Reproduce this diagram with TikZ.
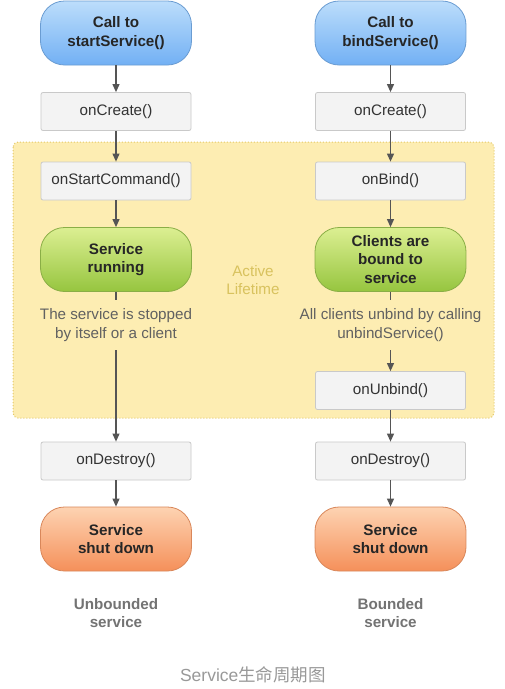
\documentclass[tikz,border=0pt]{standalone}
\usepackage{fontspec}
\setmainfont{Liberation Sans}
\newfontfamily\cjkfont{Noto Sans CJK SC}
\usetikzlibrary{arrows.meta}
\definecolor{arrowc}{HTML}{555555}
\definecolor{boxfill}{HTML}{F3F3F3}
\definecolor{boxline}{HTML}{C9C9C9}
\definecolor{yfill}{HTML}{FDEDB2}
\definecolor{yline}{HTML}{E3C766}
\definecolor{ytext}{HTML}{D8C25E}
\definecolor{bluetop}{HTML}{BCDDFB}
\definecolor{bluebot}{HTML}{72B0F4}
\definecolor{blueline}{HTML}{6A9CD2}
\definecolor{greentop}{HTML}{DCEF92}
\definecolor{greenbot}{HTML}{96C53F}
\definecolor{greenline}{HTML}{8AAE46}
\definecolor{orangetop}{HTML}{FDD3B2}
\definecolor{orangebot}{HTML}{F5905A}
\definecolor{orangeline}{HTML}{D9875A}
\tikzset{
  every node/.style={font=\fontsize{15.2}{18.5}\selectfont},
  pill/.style={rounded corners=24pt, minimum width=151pt, minimum height=64pt,
    align=center, inner sep=0pt, line width=0.8pt, text=black!85,
    font=\fontsize{15.2}{18.5}\selectfont\bfseries},
  bluepill/.style={pill, draw=blueline, top color=bluetop, bottom color=bluebot},
  greenpill/.style={pill, draw=greenline, top color=greentop, bottom color=greenbot},
  orangepill/.style={pill, draw=orangeline, top color=orangetop, bottom color=orangebot},
  callbox/.style={draw=boxline, fill=boxfill, rounded corners=2pt, minimum width=150pt,
    minimum height=38pt, inner sep=0pt, text=black!80, line width=0.8pt},
  note/.style={align=center, inner sep=0pt, minimum height=50pt, text=black!62},
  kind/.style={align=center, text=black!55, font=\fontsize{15.2}{18.5}\selectfont\bfseries},
  flow/.style={draw=arrowc, line width=1.1pt, -{Triangle[width=7pt,length=8pt]}},
  plain/.style={draw=arrowc, line width=1.1pt},
}
\begin{document}
\begin{tikzpicture}[x=1pt,y=-1pt]
\useasboundingbox (0,0) rectangle (505,689);
\fill[white] (0,0) rectangle (505,689);
% active lifetime region
\draw[yline, fill=yfill, dotted, line width=1pt, rounded corners=5pt] (13,142) rectangle (494,418);
\node[text=ytext, align=center] (active) at (253,280) {Active\\Lifetime};
% left column
\node[bluepill] (lstart) at (116,33) {Call to\\startService()};
\node[callbox] (lcreate) at (116,111.5) {onCreate()};
\node[callbox] (lcmd) at (116,181) {onStartCommand()};
\node[greenpill] (lrun) at (116,259.5) {Service\\running};
\node[note] (lnote) at (116,325) {The service is stopped\\by itself or a client};
\node[callbox] (ldestroy) at (116,461) {onDestroy()};
\node[orangepill] (lshut) at (116,539) {Service\\shut down};
\node[kind] (lkind) at (116,613) {Unbounded\\service};
% right column
\node[bluepill] (rstart) at (390.5,33) {Call to\\bindService()};
\node[callbox] (rcreate) at (390.5,111.5) {onCreate()};
\node[callbox] (rbind) at (390.5,181) {onBind()};
\node[greenpill] (rrun) at (390.5,259.5) {Clients are\\bound to\\service};
\node[note] (rnote) at (390.5,325) {All clients unbind by calling\\unbindService()};
\node[callbox] (runbind) at (390.5,390.5) {onUnbind()};
\node[callbox] (rdestroy) at (390.5,461) {onDestroy()};
\node[orangepill] (rshut) at (390.5,539) {Service\\shut down};
\node[kind] (rkind) at (390.5,613) {Bounded\\service};
% caption
\node[text=black!40, font=\fontsize{17.5}{20}\selectfont] (caption) at (253,675) {Service{\cjkfont 生命周期图}};
% connectors
\draw[flow] (lstart) -- (lcreate);
\draw[flow] (lcreate) -- (lcmd);
\draw[flow] (lcmd) -- (lrun);
\draw[plain] (lrun) -- (lnote);
\draw[flow] (lnote) -- (ldestroy);
\draw[flow] (ldestroy) -- (lshut);
\draw[flow] (rstart) -- (rcreate);
\draw[flow] (rcreate) -- (rbind);
\draw[flow] (rbind) -- (rrun);
\draw[plain] (rrun) -- (rnote);
\draw[flow] (rnote) -- (runbind);
\draw[flow] (runbind) -- (rdestroy);
\draw[flow] (rdestroy) -- (rshut);
\end{tikzpicture}
\end{document}
